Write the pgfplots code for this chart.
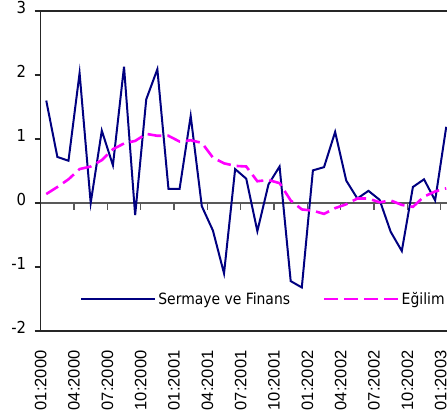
\documentclass[border=0pt]{standalone}
\usepackage{pgfplots}
\pgfplotsset{compat=1.18}
\usepackage{fontspec}
\setmainfont{DejaVu Sans Condensed}
\newfontfamily\xlab{Liberation Sans}
\definecolor{navyline}{RGB}{0,0,128}
\definecolor{magline}{RGB}{255,0,255}
\pgfplotstableread{
k v
0 1.60
1 0.72
2 0.66
3 2.03
4 0.00
5 1.13
6 0.59
7 2.13
8 -0.19
9 1.62
10 2.09
11 0.22
12 0.22
13 1.36
14 -0.05
15 -0.43
16 -1.10
17 0.53
18 0.38
19 -0.44
20 0.29
21 0.57
22 -1.22
23 -1.32
24 0.51
25 0.56
26 1.11
27 0.35
28 0.07
29 0.19
30 0.05
31 -0.45
32 -0.75
33 0.25
34 0.37
35 0.04
36 1.19
}\seriesdata
\pgfplotstableread{
k v
0 0.14
1 0.25
2 0.37
3 0.53
4 0.57
5 0.67
6 0.84
7 0.93
8 0.97
9 1.08
10 1.05
11 1.05
12 0.96
13 0.98
14 0.94
15 0.71
16 0.62
17 0.58
18 0.57
19 0.34
20 0.36
21 0.31
22 0.04
23 -0.10
24 -0.12
25 -0.17
26 -0.08
27 -0.02
28 0.07
29 0.07
30 0.01
31 0.04
32 -0.03
33 -0.06
34 0.10
35 0.18
36 0.23
}\trenddata
\begin{document}
\begin{tikzpicture}
\begin{axis}[
  scale only axis,
  width=411.1pt, height=320pt,
  xmin=-0.5, xmax=36.5, ymin=-2, ymax=3,
  ytick={-2,-1,0,1,2,3},
  /pgf/number format/assume math mode=true,
  tick align=outside,
  ytick pos=left,
  major tick length=6pt,
  xtick={-0.5,2.5,5.5,8.5,11.5,14.5,17.5,20.5,23.5,26.5,29.5,32.5,35.5},
  xticklabels={01:2000,04:2000,07:2000,10:2000,01:2001,04:2001,07:2001,10:2001,01:2002,04:2002,07:2002,10:2002,01:2003},
  xtick style={draw=none},
  xticklabel shift=10pt,
  xticklabel style={rotate=90, anchor=east, font=\xlab\fontsize{16.5}{18}\selectfont},
  yticklabel style={font=\fontsize{16.5}{18}\selectfont, xshift=-5pt, yshift=4pt},
  ytick style={black!85, line width=1.2pt},
  axis line style={black!85, line width=1.2pt},
  legend style={at={(axis cs:3.05,-1.5)}, anchor=west, draw=none, fill=none, inner sep=0pt,
    font=\fontsize{15.5}{17}\selectfont,
    /tikz/every even column/.append style={column sep=31pt}},
  legend columns=2,
  legend image code/.code={\draw[#1] (0pt,0pt) -- (74pt,0pt);},
]
\coordinate (O) at (rel axis cs:0,0);
\draw[black!65, line width=1.2pt] (axis cs:-0.5,0) -- (axis cs:36.5,0);
\pgfplotsinvokeforeach{2.5,5.5,8.5,11.5,14.5,17.5,20.5,23.5,26.5,29.5,32.5,35.5}{
  \draw[black!65, line width=1.2pt] (axis cs:#1,0) -- ([yshift=-7pt]axis cs:#1,0);
}
\addplot[navyline, line width=2pt] table[x=k,y=v] {\seriesdata};
\addlegendentry{Sermaye ve Finans}
\addplot[magline, line width=2.6pt, dash pattern=on 14pt off 6pt] table[x=k,y=v] {\trenddata};
\addlegendentry{Eğilim}
\end{axis}
\pgfresetboundingbox
\path ([shift={(-40.7pt,-86pt)}]O) rectangle ([shift={(406.3pt,331pt)}]O);
\end{tikzpicture}
\end{document}
